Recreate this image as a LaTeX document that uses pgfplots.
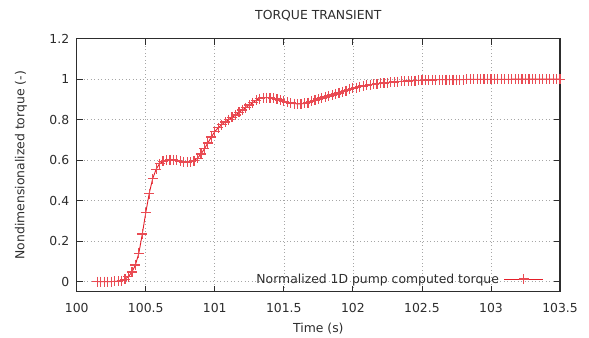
\documentclass[border=0pt]{standalone}
\usepackage{pgfplots}
\pgfplotsset{compat=1.18}
\usepackage{pgfplotstable}
\usepackage{fontspec}
\setmainfont{DejaVu Sans}
\newcommand{\myfont}{\fontsize{12.4bp}{14bp}\selectfont}
\definecolor{txt}{RGB}{45,45,45}
\definecolor{curve}{RGB}{228,30,40}
\pgfplotstableread{
t v
100.150 0
100.175 0
100.200 0
100.225 0
100.250 0
100.275 0.001
100.300 0.002
100.325 0.005
100.350 0.012
100.375 0.025
100.400 0.047
100.425 0.082
100.450 0.140
100.475 0.235
100.500 0.340
100.525 0.435
100.550 0.508
100.575 0.555
100.600 0.582
100.625 0.594
100.650 0.599
100.675 0.601
100.700 0.601
100.725 0.599
100.750 0.595
100.775 0.591
100.800 0.590
100.825 0.592
100.850 0.598
100.875 0.610
100.900 0.630
100.925 0.656
100.950 0.685
100.975 0.714
101.000 0.741
101.025 0.760
101.050 0.775
101.075 0.788
101.100 0.800
101.125 0.811
101.150 0.823
101.175 0.836
101.200 0.848
101.225 0.860
101.250 0.872
101.275 0.884
101.300 0.896
101.325 0.904
101.350 0.908
101.375 0.909
101.400 0.908
101.425 0.906
101.450 0.902
101.475 0.897
101.500 0.891
101.525 0.886
101.550 0.882
101.575 0.879
101.600 0.878
101.625 0.878
101.650 0.880
101.675 0.884
101.700 0.890
101.725 0.896
101.750 0.902
101.775 0.907
101.800 0.912
101.825 0.917
101.850 0.922
101.875 0.927
101.900 0.932
101.925 0.938
101.950 0.944
101.975 0.949
102.000 0.954
102.025 0.958
102.050 0.962
102.075 0.966
102.100 0.969
102.125 0.972
102.150 0.975
102.175 0.977
102.200 0.979
102.225 0.981
102.250 0.983
102.275 0.985
102.300 0.986
102.325 0.988
102.350 0.989
102.375 0.990
102.400 0.991
102.425 0.992
102.450 0.993
102.475 0.994
102.500 0.995
102.525 0.995
102.550 0.996
102.575 0.996
102.600 0.997
102.625 0.997
102.650 0.997
102.675 0.998
102.700 0.998
102.725 0.998
102.750 0.998
102.775 0.998
102.800 0.998
102.825 0.999
102.850 0.999
102.875 0.999
102.900 0.999
102.925 0.999
102.950 0.999
102.975 0.999
103.000 0.999
103.025 0.999
103.050 0.999
103.075 0.999
103.100 0.999
103.125 0.999
103.150 1.000
103.175 1.000
103.200 1.000
103.225 1.000
103.250 1.000
103.275 1.000
103.300 1.000
103.325 1.000
103.350 1.000
103.375 1.000
103.400 1.000
103.425 1.000
103.450 1.000
103.475 1.000
103.500 1.000
}\torque
\begin{document}
\begin{tikzpicture}
\begin{axis}[
  at={(0,0)}, anchor=south west,
  scale only axis, width=483.3bp, height=253bp,
  xmin=100, xmax=103.5, ymin=-0.05, ymax=1.2,
  clip mode=individual,
  xtick={100,100.5,101,101.5,102,102.5,103,103.5},
  xticklabels={100,100.5,101,101.5,102,102.5,103,103.5},
  ytick={0,0.2,0.4,0.6,0.8,1,1.2},
  yticklabels={0,0.2,0.4,0.6,0.8,1,1.2},
  /pgf/number format/assume math mode=true,
  tick align=inside, major tick length=6bp,
  xtick pos=both, ytick pos=both,
  tick style={color=txt, line width=0.8bp},
  axis line style={color=txt, line width=1.2bp},
  grid=major,
  major grid style={color=gray!70, line width=0.6bp, dash pattern=on 1bp off 2.5bp},
  tick label style={font=\myfont, color=txt},
  xticklabel style={yshift=-8bp},
  yticklabel style={xshift=-4bp},
  label style={font=\myfont, color=txt},
  xlabel={Time (s)},
  ylabel={Nondimensionalized torque (-)},
  xlabel style={at={(axis description cs:0.5,-0.145)}, anchor=center},
  ylabel style={at={(axis description cs:-0.1152,0.5)}, anchor=center},
  legend plot pos=right,
  legend cell align=right,
  legend style={at={(axis description cs:0.9665,0.05)}, anchor=east, draw=none, fill=none,
    inner sep=0pt, outer sep=0pt, font=\myfont, text=txt,
    /tikz/every odd column/.append style={column sep=3bp}},
  legend image code/.code={\draw[mark repeat=2,mark phase=2,#1] plot coordinates {(0bp,0bp)(19.5bp,0bp)(39bp,0bp)};},
]
\addplot[color=curve, line width=0.9bp, mark=+, mark size=5bp, mark options={line width=1.2bp, draw=curve!80}] table[x=t,y=v] {\torque};
\addlegendentry{Normalized 1D pump computed torque}
\node[font=\myfont, text=txt, anchor=center] at (axis description cs:0.5,1.0897) {TORQUE TRANSIENT};
\end{axis}
\path[use as bounding box] (-76.7bp,-45.3bp) rectangle (512.3bp,291.7bp);
\end{tikzpicture}
\end{document}
